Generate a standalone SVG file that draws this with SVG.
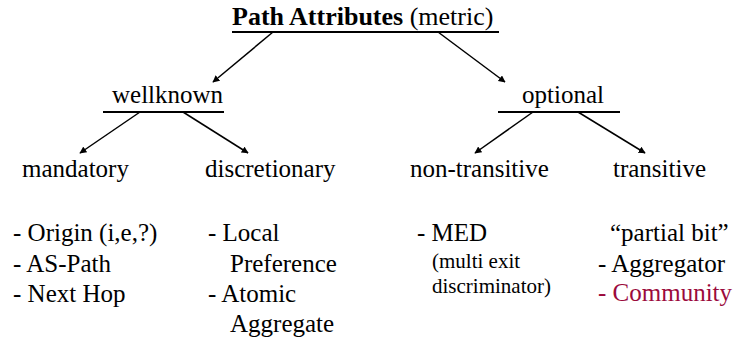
<svg xmlns="http://www.w3.org/2000/svg" width="749" height="339" viewBox="0 0 749 339">
  <style>
    .t { font-size: 25px; }
    .title { font-size: 26px; }
    .small { font-size: 21px; }
    .red { fill: #9b0a3c; }
    .bar { stroke: #000; stroke-width: 2; fill: none; }
    .edge { stroke: #000; stroke-width: 1.5; fill: none; marker-end: url(#arrow); }
  </style>
  <defs>
    <marker id="arrow" viewBox="0 0 10 10" refX="9" refY="5" markerWidth="7" markerHeight="7" markerUnits="userSpaceOnUse" orient="auto">
      <path d="M0,0 L10,5 L0,10 Z" fill="#000"/>
    </marker>
  </defs>

  <rect width="749" height="339" fill="#fff"/>

  <g font-family="Liberation Serif, Times New Roman, DejaVu Serif, serif" fill="#000">
    <!-- root -->
    <g id="root">
      <text class="title" x="232" y="25"><tspan font-weight="bold">Path Attributes</tspan> (metric)</text>
      <line class="bar" x1="232" y1="32" x2="499" y2="32"/>
    </g>

    <!-- second level -->
    <g id="wellknown">
      <text class="t" x="112" y="103">wellknown</text>
      <line class="bar" x1="103" y1="112" x2="224" y2="112"/>
    </g>
    <g id="optional">
      <text class="t" x="522" y="103">optional</text>
      <line class="bar" x1="498" y1="112" x2="620" y2="112"/>
    </g>

    <!-- leaf categories -->
    <g id="mandatory">
      <text class="t" x="22" y="177">mandatory</text>
      <text class="t" x="13" y="241">- Origin (i,e,?)</text>
      <text class="t" x="13" y="272">- AS-Path</text>
      <text class="t" x="13" y="302">- Next Hop</text>
    </g>
    <g id="discretionary">
      <text class="t" x="205" y="177">discretionary</text>
      <text class="t" x="208" y="241">- Local</text>
      <text class="t" x="230" y="272">Preference</text>
      <text class="t" x="208" y="302">- Atomic</text>
      <text class="t" x="230" y="332">Aggregate</text>
    </g>
    <g id="non-transitive">
      <text class="t" x="410" y="177">non-transitive</text>
      <text class="t" x="417" y="241">- MED</text>
      <text class="small" x="432" y="268">(multi exit</text>
      <text class="small" x="432" y="293">discriminator)</text>
    </g>
    <g id="transitive">
      <text class="t" x="613" y="177">transitive</text>
      <text class="t" x="610" y="241">“partial bit”</text>
      <text class="t" x="598" y="272">- Aggregator</text>
      <text class="t red" x="598" y="301">- Community</text>
    </g>
  </g>

  <!-- connectors -->
  <g id="connectors">
    <line class="edge" x1="273" y1="32" x2="213" y2="82"/>
    <line class="edge" x1="438" y1="32" x2="505" y2="82"/>
    <line class="edge" x1="140" y1="112" x2="80" y2="153"/>
    <line class="edge" x1="183" y1="112" x2="248" y2="153"/>
    <line class="edge" x1="533" y1="112" x2="475" y2="153"/>
    <line class="edge" x1="578" y1="112" x2="645" y2="153"/>
  </g>
</svg>
